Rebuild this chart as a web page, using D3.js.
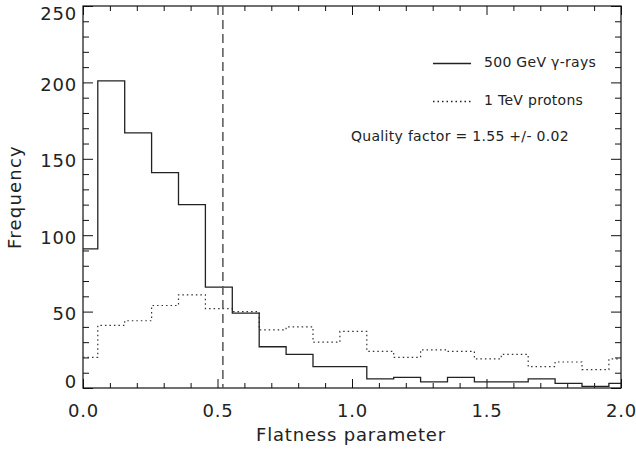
<!DOCTYPE html>
<html>
<head>
<meta charset="utf-8">
<script src="https://cdn.jsdelivr.net/npm/d3@7"></script>
<style>
  body { margin: 0; background: #fff; }
  text { font-family: "DejaVu Sans", sans-serif; fill: #222; }
</style>
</head>
<body>
<svg width="636" height="450"></svg>
<script>
// histogram bins (left edges) and counts
var binStarts = [0.0, 0.055, 0.155, 0.255, 0.355, 0.455, 0.555, 0.655, 0.755, 0.855,
                 0.955, 1.055, 1.155, 1.255, 1.355, 1.455, 1.555, 1.655, 1.755, 1.855, 1.955];
var binEnd = 2.0;
var gammaCounts  = [91, 201, 167, 141, 120, 66, 49, 27, 22, 14, 14, 6, 7, 4, 7, 4, 4, 6, 3, 1, 3];
var protonCounts = [20, 41, 44, 54, 61, 52, 50, 38, 40, 30, 37, 24, 20, 25, 24, 19, 22, 14, 17, 12, 19];
var cutValue = 0.52;
var xTicks = [0.0, 0.5, 1.0, 1.5, 2.0];
var yTicks = [0, 50, 100, 150, 200, 250];
var legendLabels = ["500 GeV \u03b3-rays", "1 TeV protons"];
var qualityText = "Quality factor = 1.55 +/- 0.02";

var svg = d3.select("svg");
var pLeft = 83, pRight = 621, pTop = 6, pBottom = 388;

var x = d3.scaleLinear().domain([0, 2]).range([pLeft, pRight]);
var y = d3.scaleLinear().domain([0, 250]).range([pBottom, pTop]);

var xMinor = x.ticks(20).filter(function(d) { return xTicks.indexOf(d) < 0; });
var yMinor = y.ticks(25).filter(function(d) { return yTicks.indexOf(d) < 0; });

function tickAxis(axisFn, scale, vals, size) {
  return axisFn(scale).tickValues(vals).tickSizeInner(-size).tickSizeOuter(0).tickFormat("");
}

// bottom
var gb = svg.append("g").attr("transform", "translate(0," + pBottom + ")");
gb.append("g").call(d3.axisBottom(x).tickValues(xTicks).tickSizeInner(-9).tickSizeOuter(0)
  .tickPadding(16).tickFormat(d3.format(".1f")));
gb.append("g").call(tickAxis(d3.axisBottom, x, xMinor, 5));
// top
var gt = svg.append("g").attr("transform", "translate(0," + pTop + ")");
gt.append("g").call(tickAxis(d3.axisTop, x, xTicks, 9));
gt.append("g").call(tickAxis(d3.axisTop, x, xMinor, 5));
// left
var gl = svg.append("g").attr("transform", "translate(" + pLeft + ",0)");
gl.append("g").attr("class", "ylab").call(d3.axisLeft(y).tickValues(yTicks).tickSizeInner(-10).tickSizeOuter(0)
  .tickPadding(6));
gl.append("g").call(tickAxis(d3.axisLeft, y, yMinor, 6));
// right
var gr = svg.append("g").attr("transform", "translate(" + pRight + ",0)");
gr.append("g").call(tickAxis(d3.axisRight, y, yTicks, 10));
gr.append("g").call(tickAxis(d3.axisRight, y, yMinor, 6));

svg.selectAll(".domain").remove();
svg.selectAll(".tick line").attr("stroke", "#111");
svg.selectAll(".tick text").style("font-size", "18px").style("letter-spacing", "0.8px")
  .style("font-family", "DejaVu Sans").attr("fill", "#222");
// end labels sit inside the box like in the original
svg.selectAll(".ylab .tick text").attr("dy", function(d) {
  if (d === 250) return "0.75em";
  if (d === 0) return "-0.05em";
  return "0.45em";
});

// box
svg.append("rect")
  .attr("x", pLeft).attr("y", pTop)
  .attr("width", pRight - pLeft).attr("height", pBottom - pTop)
  .attr("fill", "none").attr("stroke", "#111").attr("stroke-width", 1.2);

function stepPoints(counts) {
  var pts = binStarts.map(function(b, i) { return [b, counts[i]]; });
  pts.push([binEnd, counts[counts.length - 1]]);
  return pts;
}

var line = d3.line()
  .x(function(d) { return x(d[0]); })
  .y(function(d) { return y(d[1]); })
  .curve(d3.curveStepAfter);

svg.append("path")
  .attr("d", line(stepPoints(protonCounts)))
  .attr("fill", "none").attr("stroke", "#333").attr("stroke-width", 1.2)
  .attr("stroke-dasharray", "1.5,3");

svg.append("path")
  .attr("d", line(stepPoints(gammaCounts)))
  .attr("fill", "none").attr("stroke", "#222").attr("stroke-width", 1.3);

// cut
svg.append("line")
  .attr("x1", x(cutValue)).attr("x2", x(cutValue))
  .attr("y1", y(250)).attr("y2", y(0))
  .attr("stroke", "#555").attr("stroke-width", 1.5)
  .attr("stroke-dasharray", "9,5");

// legend
var legStyles = ["none", "1.5,3"];
legendLabels.forEach(function(lab, i) {
  var ly = [63.5, 101.5][i];
  svg.append("line")
    .attr("x1", 433).attr("x2", 471).attr("y1", ly).attr("y2", ly)
    .attr("stroke", "#222").attr("stroke-width", 1.3)
    .attr("stroke-dasharray", legStyles[i]);
  svg.append("text")
    .attr("x", 484).attr("y", ly + 3)
    .style("font-size", "14px").style("letter-spacing", "0.3px")
    .text(lab);
});

svg.append("text")
  .attr("x", 351).attr("y", 141)
  .style("font-size", "14px").style("letter-spacing", "0.3px")
  .text(qualityText);

// axis titles
svg.append("text")
  .attr("x", (pLeft + pRight) / 2 - 1).attr("y", 441)
  .attr("text-anchor", "middle")
  .style("font-size", "18px").style("letter-spacing", "0.8px")
  .text("Flatness parameter");

svg.append("text")
  .attr("transform", "translate(21," + ((pTop + pBottom) / 2) + ") rotate(-90)")
  .attr("text-anchor", "middle")
  .style("font-size", "18px").style("letter-spacing", "1.2px")
  .text("Frequency");
</script>
</body>
</html>
